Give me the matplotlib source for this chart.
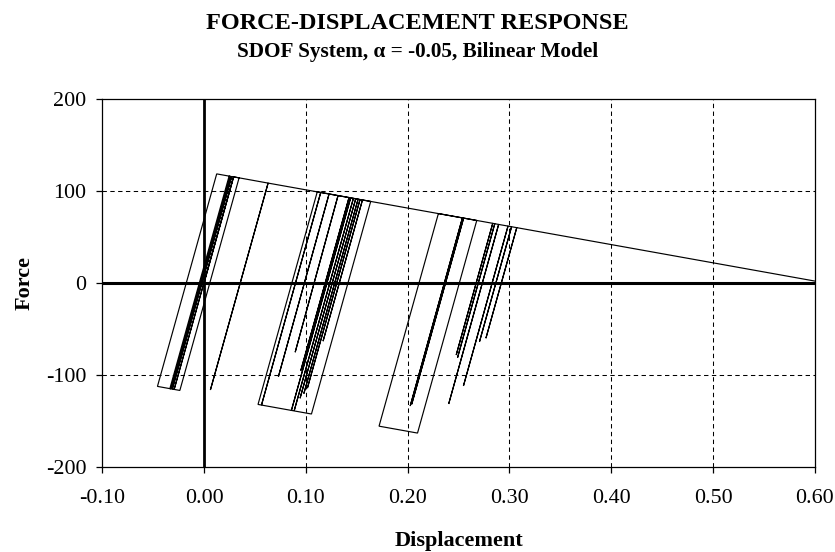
import matplotlib
matplotlib.use("Agg")
import matplotlib.pyplot as plt

plt.rcParams['font.family'] = ['Liberation Serif', 'DejaVu Serif']
plt.rcParams['axes.unicode_minus'] = False

# ---- data ----
displacement = [
    0.0, 0.0291, 0.0344, -0.0238, -0.0458, 0.0124, 0.0255, -0.0327, -0.0336, 0.0246,
    0.0262, -0.0320, 0.0197, -0.0303, 0.0270, -0.0312, 0.0270, 0.0289, -0.0294, 0.0289,
    0.0629, 0.0062, 0.0629,
    0.1146, 0.0564, 0.1146, 0.1228, 0.0730, 0.1228, 0.1316, 0.0895, 0.1316, 0.1424,
    0.0950, 0.1424, 0.1440, 0.0858, 0.1440, 0.1467, 0.0885, 0.1467, 0.1490, 0.0943,
    0.1490, 0.1513, 0.0980, 0.1513, 0.1532, 0.1015, 0.1532, 0.1556, 0.1169, 0.1556,
    0.1637, 0.1055, 0.0530, 0.1112,
    0.2538, 0.2025, 0.2538, 0.2550, 0.2040, 0.2550, 0.2679, 0.2097, 0.1719, 0.2302,
    0.2836, 0.2477, 0.2836, 0.2856, 0.2490, 0.2856, 0.2894, 0.2403, 0.2894, 0.2986,
    0.2548, 0.2986, 0.3021, 0.2706, 0.3021, 0.3072, 0.2769, 0.3072, 0.6000,
]
force = [
    0.0, 115.4, 114.4, -116.5, -112.1, 118.7, 116.1, -114.7, -114.5, 116.3,
    116.0, -114.9, 90.0, -108.0, 115.9, -115.0, 115.9, 115.5, -115.4, 115.5,
    108.7, -116.0, 108.7,
    98.5, -132.4, 98.5, 96.9, -101.6, 96.9, 95.1, -75.0, 95.1, 93.0,
    -95.0, 93.0, 92.7, -138.2, 92.7, 92.1, -138.7, 92.1, 91.7, -125.0,
    91.7, 91.2, -120.0, 91.2, 90.8, -114.0, 90.8, 90.4, -63.0, 90.4,
    88.8, -142.1, -131.7, 99.2,
    70.9, -133.4, 70.9, 70.7, -131.5, 70.7, 68.1, -162.8, -155.3, 75.6,
    65.0, -78.0, 65.0, 64.6, -81.0, 64.6, 63.8, -131.2, 63.8, 62.0,
    -111.6, 62.0, 61.3, -63.5, 61.3, 60.3, -59.8, 60.3, 2.3,
]

x_ticks = [-0.10, 0.00, 0.10, 0.20, 0.30, 0.40, 0.50, 0.60]
x_tick_labels = ["-0.10", "0.00", "0.10", "0.20", "0.30", "0.40", "0.50", "0.60"]
y_ticks = [-200, -100, 0, 100, 200]
y_tick_labels = ["-200", "-100", "0", "100", "200"]
x_grid = [0.10, 0.20, 0.30, 0.40, 0.50]
y_grid = [-100, 100]

title = "FORCE-DISPLACEMENT RESPONSE"
subtitle = "SDOF System, \u03b1 = -0.05, Bilinear Model"
x_label = "Displacement"
y_label = "Force"

# ---- figure ----
fig = plt.figure(figsize=(8.35, 5.52), dpi=100)
ax = fig.add_axes([0.1225, 0.1534, 0.8533, 0.6672])

ax.set_xlim(-0.10, 0.60)
ax.set_ylim(-200, 200)

dash = (0, (4.2, 3.3))
for gx in x_grid:
    ax.axvline(gx, color='black', lw=0.75, linestyle=dash, zorder=1)
for gy in y_grid:
    ax.axhline(gy, color='black', lw=0.75, linestyle=dash, zorder=1)

ax.axvline(0, color='black', lw=2.0, zorder=3)
ax.axhline(0, color='black', lw=2.2, zorder=3)

ax.plot(displacement, force, color='black', lw=0.85, zorder=4,
        solid_joinstyle='miter')

ax.set_xticks(x_ticks)
ax.set_xticklabels(x_tick_labels)
ax.set_yticks(y_ticks)
ax.set_yticklabels(y_tick_labels)
ax.tick_params(axis='both', direction='out', length=4.5, width=0.9,
               labelsize=15.8, colors='black')
ax.tick_params(axis='x', pad=11)
ax.tick_params(axis='y', pad=7)

for side in ['left', 'bottom', 'top', 'right']:
    ax.spines[side].set_linewidth(0.9)
    ax.spines[side].set_color('black')

fig.text(0.5, 0.9469, title, ha='center', va='baseline',
         fontsize=17.5, fontweight='bold')
fig.text(0.5, 0.8973, subtitle, ha='center', va='baseline',
         fontsize=15.3, fontweight='bold')
fig.text(0.5492, 0.0115, x_label, ha='center', va='baseline',
         fontsize=16, fontweight='bold')
fig.text(0.030, 0.487, y_label, ha='center', va='center', rotation=90,
         fontsize=16, fontweight='bold')

fig.savefig("out.png", dpi=100)
